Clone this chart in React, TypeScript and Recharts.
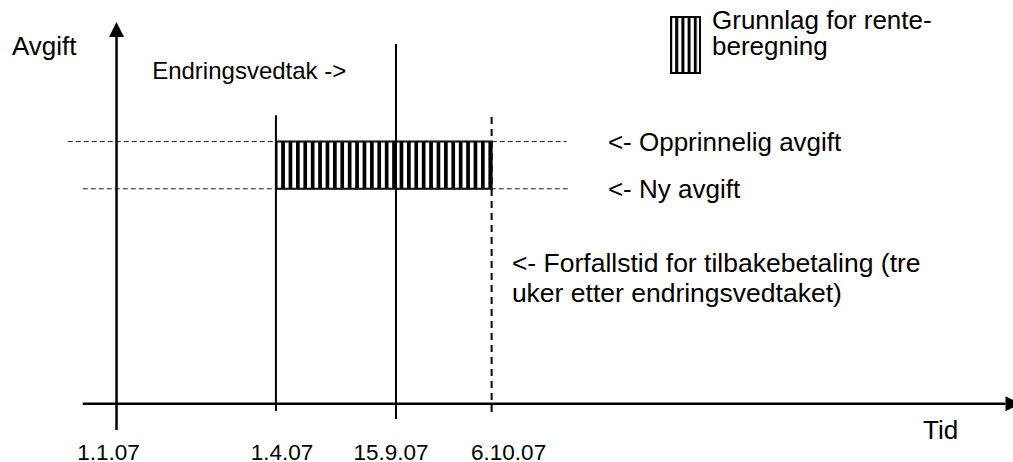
import React from 'react';
import {
  ComposedChart,
  XAxis,
  YAxis,
  ReferenceLine,
  ReferenceArea,
  ReferenceDot,
  Legend,
} from 'recharts';

const FONT = '"Liberation Sans", Arial, Helvetica, sans-serif';

// Time axis: dates and their (schematic, not to scale) positions
const dateLabels = ['1.1.07', '1.4.07', '15.9.07', '6.10.07'];
const datePos = [0, 42.5, 74.5, 100];

// Fee levels (schematic)
const levelNames = ['Opprinnelig avgift', 'Ny avgift'];
const levelValues = [100, 82];

const legendLines = ['Grunnlag for rente-', 'beregning'];
const dueNote = ['<- Forfallstid for tilbakebetaling (tre', 'uker etter endringsvedtaket)'];

const timeline = dateLabels.map((label, i) => ({ x: datePos[i], label }));

const W = 1013;
const H = 462;

// small horizontal nudges, the date labels are not centred under their lines
const TICK_NUDGE = [-8, 6, -5, 17];

function DateTick(props: any) {
  const { x, y, index } = props;
  return (
    <text
      x={x + (TICK_NUDGE[index] ?? 0)}
      y={y + 30}
      textAnchor="middle"
      fontSize={22.5}
      fontFamily={FONT}
      fill="#000"
    >
      {dateLabels[index]}
    </text>
  );
}

// text drawn at a data point (baseline at the point)
const note = (lines: string[], opts: { size?: number; gap?: number } = {}) => (p: any) => {
  const { size = 26, gap = 25 } = opts;
  return (
    <text x={p.cx} y={p.cy} fontSize={size} fontFamily={FONT} fill="#000">
      {lines.map((l, i) => (
        <tspan key={i} x={p.cx} dy={i === 0 ? 0 : gap}>
          {l}
        </tspan>
      ))}
    </text>
  );
};

const arrowUp = (p: any) => (
  <path d={`M${p.cx},${p.cy} L${p.cx - 7.5},${p.cy + 15} L${p.cx + 7.5},${p.cy + 15} Z`} fill="#000" />
);
const arrowRight = (p: any) => (
  <path d={`M${p.cx},${p.cy} L${p.cx - 15},${p.cy - 7.5} L${p.cx - 15},${p.cy + 7.5} Z`} fill="#000" />
);

function HatchLegend() {
  return (
    <svg width={330} height={80} style={{ display: 'block' }}>
      <defs>
        <pattern id="hatchLegend" patternUnits="userSpaceOnUse" width={6.2} height={10}>
          <rect x={0} y={0} width={3} height={10} fill="#000" />
        </pattern>
      </defs>
      <rect x={2} y={17} width={29} height={56} fill="url(#hatchLegend)" stroke="#000" strokeWidth={2} />
      <text x={43} y={29} fontSize={26} fontFamily={FONT} fill="#000">
        {legendLines[0]}
      </text>
      <text x={43} y={55} fontSize={26} fontFamily={FONT} fill="#000">
        {legendLines[1]}
      </text>
    </svg>
  );
}

export default function App() {
  return (
    <div style={{ position: 'absolute', left: 0, top: 0, width: W, height: H, background: '#fff' }}>
      <ComposedChart width={W} height={H} data={timeline} margin={{ top: 0, right: 0, bottom: 0, left: 4 }}>
        <defs>
          <pattern id="hatch" patternUnits="userSpaceOnUse" width={7.4} height={10}>
            <rect x={0} y={0} width={3.7} height={10} fill="#000" />
          </pattern>
        </defs>
        <XAxis
          dataKey="x"
          type="number"
          domain={[-30, 239]}
          allowDataOverflow
          ticks={datePos}
          interval={0}
          tick={<DateTick />}
          axisLine={false}
          tickLine={false}
          tickSize={0}
          tickMargin={0}
          height={32}
        />
        <YAxis type="number" domain={[-10, 154]} allowDataOverflow hide />

        <Legend
          layout="horizontal"
          verticalAlign="middle"
          align="center"
          content={() => <HatchLegend />}
          wrapperStyle={{ left: 669, top: 0, width: 330, height: 80 }}
        />

        {/* interest basis: between change date and due date, old vs new fee */}
        <ReferenceArea
          x1={datePos[1]}
          x2={datePos[3]}
          y1={levelValues[1]}
          y2={levelValues[0]}
          fill="url(#hatch)"
          fillOpacity={1}
          stroke="#000"
          strokeWidth={2}
          ifOverflow="visible"
        />

        {/* fee levels */}
        <ReferenceLine
          segment={[{ x: -13, y: levelValues[0] }, { x: 120, y: levelValues[0] }]}
          stroke="#222"
          strokeWidth={1}
          strokeDasharray="5 3"
          ifOverflow="visible"
        />
        <ReferenceLine
          segment={[{ x: -9, y: levelValues[1] }, { x: 121, y: levelValues[1] }]}
          stroke="#222"
          strokeWidth={1}
          strokeDasharray="5 3"
          ifOverflow="visible"
        />

        {/* date lines */}
        <ReferenceLine
          segment={[{ x: datePos[1], y: -2.8 }, { x: datePos[1], y: 110 }]}
          stroke="#000"
          strokeWidth={2}
          ifOverflow="visible"
        />
        <ReferenceLine
          segment={[{ x: datePos[2], y: -5.8 }, { x: datePos[2], y: 137.2 }]}
          stroke="#000"
          strokeWidth={2}
          ifOverflow="visible"
        />
        <ReferenceLine
          segment={[{ x: datePos[3], y: -3.1 }, { x: datePos[3], y: 110 }]}
          stroke="#000"
          strokeWidth={2}
          strokeDasharray="7 5"
          ifOverflow="visible"
        />

        {/* axes */}
        <ReferenceLine
          segment={[{ x: datePos[0], y: -10 }, { x: datePos[0], y: 140 }]}
          stroke="#000"
          strokeWidth={2.5}
          ifOverflow="visible"
        />
        <ReferenceLine
          segment={[{ x: -9, y: 0 }, { x: 237, y: 0 }]}
          stroke="#000"
          strokeWidth={2.5}
          ifOverflow="visible"
        />
        <ReferenceDot x={datePos[0]} y={145.6} r={1} shape={arrowUp} ifOverflow="visible" />
        <ReferenceDot x={241} y={0} r={1} shape={arrowRight} ifOverflow="visible" />

        {/* annotations */}
        <ReferenceDot x={-27.9} y={133} r={1} shape={note(['Avgift'])} ifOverflow="visible" />
        <ReferenceDot x={215} y={-13.4} r={1} shape={note(['Tid'])} ifOverflow="visible" />
        <ReferenceDot x={9.5} y={123.9} r={1} shape={note(['Endringsvedtak ->'], { size: 24 })} ifOverflow="visible" />
        <ReferenceDot x={131} y={96.4} r={1} shape={note(['<- ' + levelNames[0]])} ifOverflow="visible" />
        <ReferenceDot x={131} y={78.5} r={1} shape={note(['<- ' + levelNames[1]])} ifOverflow="visible" />
        <ReferenceDot
          x={105.4}
          y={50.3}
          r={1}
          shape={note(dueNote, { size: 26.5, gap: 30 })}
          ifOverflow="visible"
        />
      </ComposedChart>
    </div>
  );
}
